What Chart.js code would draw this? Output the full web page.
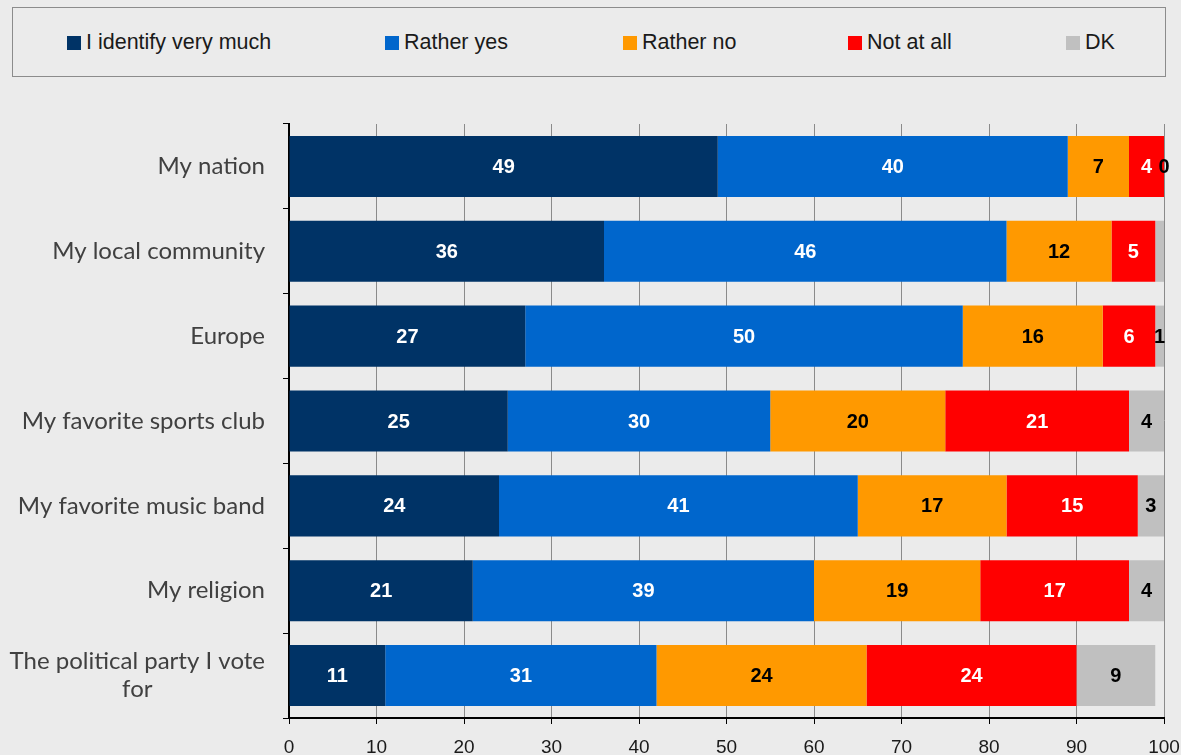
<!DOCTYPE html>
<html>
<head>
<meta charset="utf-8">
<script src="https://cdn.jsdelivr.net/npm/chart.js@4.4.1/dist/chart.umd.min.js"></script>
<style>
  html, body { margin: 0; padding: 0; background: #ebebeb; }
  #wrap { position: relative; width: 1181px; height: 755px; }
  #legend { position: absolute; left: 12px; top: 7px; width: 1152px; height: 68px; border: 1px solid #8c8c8c; font-family: Arial, "Liberation Sans", sans-serif; font-size: 21.5px; color: #1a1a1a; }
  #legend span.item { position: absolute; top: 22px; white-space: nowrap; }
  #legend i { display: inline-block; width: 14px; height: 14px; margin-right: 5px; vertical-align: -1px; }
  canvas { position: absolute; left: 0; top: 0; }
</style>
</head>
<body>
<div id="wrap">
  <div id="legend"></div>
  <canvas id="chart" width="1181" height="755"></canvas>
</div>
<script>
const categories = [['My nation'], ['My local community'], ['Europe'], ['My favorite sports club'], ['My favorite music band'], ['My religion'], ['The political party I vote', 'for']];
const seriesNames = ['I identify very much', 'Rather yes', 'Rather no', 'Not at all', 'DK'];
const veryMuch = [49, 36, 27, 25, 24, 21, 11];
const ratherYes = [40, 46, 50, 30, 41, 39, 31];
const ratherNo = [7, 12, 16, 20, 17, 19, 24];
const notAtAll = [4, 5, 6, 21, 15, 17, 24];
const dk = [0, 1, 1, 4, 3, 4, 9];
const xTicks = [0, 10, 20, 30, 40, 50, 60, 70, 80, 90, 100];

const colors = ['#003366', '#0066cc', '#ff9900', '#ff0000', '#c0c0c0'];
const labelColors = ['#ffffff', '#ffffff', '#000000', '#ffffff', '#000000'];
const legendX = [54, 372, 610, 835, 1053];
// the DK value of "My local community" has no label in the original
const hiddenLabels = [[4, 1]];

const legend = document.getElementById('legend');
seriesNames.forEach((name, i) => {
  const s = document.createElement('span');
  s.className = 'item';
  s.style.left = legendX[i] + 'px';
  s.innerHTML = `<i style="background:${colors[i]}"></i>${name}`;
  legend.appendChild(s);
});

const valueLabels = {
  id: 'valueLabels',
  afterDatasetsDraw(chart) {
    const g = chart.ctx;
    g.save();
    g.font = 'bold 20px Arial, "Liberation Sans", sans-serif';
    g.textAlign = 'center';
    g.textBaseline = 'middle';
    chart.data.datasets.forEach((ds, di) => {
      chart.getDatasetMeta(di).data.forEach((bar, i) => {
        if (hiddenLabels.some(([d, k]) => d === di && k === i)) return;
        g.fillStyle = labelColors[di];
        g.fillText(String(ds.data[i]), (bar.x + bar.base) / 2, bar.y + 1);
      });
    });
    g.restore();
  }
};

// category labels: block right-aligned to the axis, lines centred within the block
const categoryLabels = {
  id: 'categoryLabels',
  afterDraw(chart) {
    const g = chart.ctx;
    const y = chart.scales.y;
    const right = y.right - 24;
    const lh = 28;
    g.save();
    g.font = '24px Lato, "Open Sans", sans-serif';
    g.fillStyle = '#404040';
    g.textAlign = 'center';
    g.textBaseline = 'middle';
    categories.forEach((lines, i) => {
      const w = Math.max(...lines.map((l) => g.measureText(l).width));
      const cx = right - w / 2;
      const cy = y.getPixelForTick(i);
      lines.forEach((l, k) => g.fillText(l, cx, cy + (k - (lines.length - 1) / 2) * lh));
    });
    g.restore();
  }
};

new Chart(document.getElementById('chart'), {
  type: 'bar',
  data: {
    labels: categories,
    datasets: [veryMuch, ratherYes, ratherNo, notAtAll, dk].map((d, i) => ({
      label: seriesNames[i], data: d, backgroundColor: colors[i], borderWidth: 0,
      barPercentage: 1, categoryPercentage: 0.72
    }))
  },
  options: {
    indexAxis: 'y',
    responsive: false,
    animation: false,
    layout: { padding: { top: 124, right: 17, bottom: 0, left: 0 } },
    plugins: { legend: { display: false }, tooltip: { enabled: false } },
    scales: {
      x: {
        stacked: true, min: 0, max: 100,
        afterBuildTicks: (s) => { s.ticks = xTicks.map((v) => ({ value: v })); },
        afterFit: (s) => { s.height = 37; s.paddingRight = 0; s.paddingLeft = 0; },
        grid: { color: '#8a8a8a', borderDash: [2, 2], tickColor: '#000', tickLength: 6, tickBorderDash: [] },
        border: { color: '#000', width: 2 },
        ticks: { color: '#1a1a1a', font: { family: 'Arial, "Liberation Sans", sans-serif', size: 19 }, padding: 12, maxRotation: 0 }
      },
      y: {
        stacked: true,
        afterFit: (s) => { s.width = 289; },
        grid: { offset: true, drawOnChartArea: false, tickColor: '#000', tickLength: 6 },
        border: { color: '#000', width: 2 },
        ticks: { display: false }
      }
    }
  },
  plugins: [valueLabels, categoryLabels]
});
</script>
</body>
</html>
